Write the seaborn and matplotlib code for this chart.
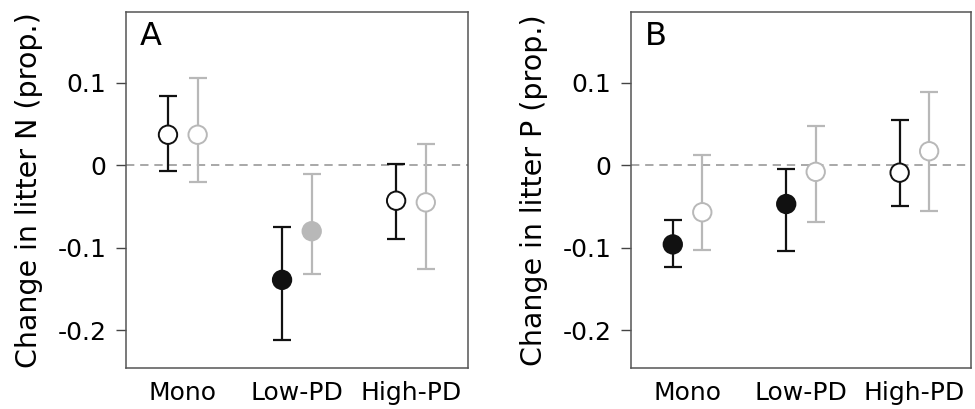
import numpy as np
import seaborn as sns
import matplotlib.pyplot as plt

sns.set_style("white")
plt.rcParams['font.family'] = ['DejaVu Sans']
plt.rcParams['text.color'] = 'black'
plt.rcParams['axes.labelcolor'] = 'black'
plt.rcParams['xtick.color'] = 'black'
plt.rcParams['ytick.color'] = 'black'

GROUPS = ['Mono', 'Low-PD', 'High-PD']

# panel A: litter N, two series (black / grey)
N_BLACK_MID = [0.037, -0.139, -0.043]
N_BLACK_LO = [-0.007, -0.212, -0.089]
N_BLACK_HI = [0.084, -0.075, 0.001]
N_BLACK_FILL = ['open', 'filled', 'open']
N_GREY_MID = [0.037, -0.080, -0.045]
N_GREY_LO = [-0.020, -0.132, -0.126]
N_GREY_HI = [0.106, -0.011, 0.026]
N_GREY_FILL = ['open', 'filled', 'open']

# panel B: litter P
P_BLACK_MID = [-0.096, -0.047, -0.009]
P_BLACK_LO = [-0.123, -0.104, -0.050]
P_BLACK_HI = [-0.067, -0.004, 0.055]
P_BLACK_FILL = ['filled', 'filled', 'open']
P_GREY_MID = [-0.057, -0.008, 0.017]
P_GREY_LO = [-0.103, -0.069, -0.056]
P_GREY_HI = [0.013, 0.048, 0.089]
P_GREY_FILL = ['open', 'open', 'open']

YTICKS = [-0.2, -0.1, 0, 0.1]
YTICKLABELS = ['-0.2', '-0.1', '0', '0.1']

BLACK = '#111111'
GREY = '#b8b8b8'
DODGE = 0.13


def draw_series(ax, offset, mid, lo, hi, fills, color):
    x = np.arange(len(GROUPS)) + offset
    mid = np.array(mid)
    err = [mid - np.array(lo), np.array(hi) - mid]
    ax.errorbar(x, mid, yerr=err, fmt='none', ecolor=color, elinewidth=1.6,
                capsize=6.5, capthick=1.6, zorder=2)
    sns.scatterplot(x=x, y=mid, hue=fills, hue_order=['open', 'filled'],
                    palette={'open': 'white', 'filled': color},
                    edgecolor=color, linewidth=1.4, s=175, legend=False,
                    zorder=3, ax=ax)


def panel(ax, letter, ylabel, black, grey):
    ax.axhline(0, color='#999999', lw=1.2, ls=(0, (5, 3.5)), zorder=1)
    draw_series(ax, DODGE, *grey, GREY)
    draw_series(ax, -DODGE, *black, BLACK)
    ax.set_xlim(-0.5, 2.5)
    ax.set_ylim(-0.246, 0.186)
    ax.set_xticks(range(len(GROUPS)))
    ax.set_xticklabels(GROUPS, fontsize=18)
    ax.set_yticks(YTICKS)
    ax.set_yticklabels(YTICKLABELS, fontsize=18)
    ax.tick_params(axis='x', length=0, pad=9)
    ax.tick_params(axis='y', length=7, width=1, color='#444444', pad=7, left=True)
    ax.set_ylabel(ylabel, fontsize=20.5, labelpad=10)
    for s in ax.spines.values():
        s.set_color('#555555')
        s.set_linewidth(1.1)
    ax.text(0.04, 0.975, letter, transform=ax.transAxes, fontsize=23,
            ha='left', va='top')


fig = plt.figure(figsize=(9.75, 4.09), dpi=100)
ax1 = fig.add_axes([0.129, 0.100, 0.351, 0.871])
ax2 = fig.add_axes([0.647, 0.100, 0.349, 0.871])

panel(ax1, 'A', 'Change in litter N (prop.)',
      (N_BLACK_MID, N_BLACK_LO, N_BLACK_HI, N_BLACK_FILL),
      (N_GREY_MID, N_GREY_LO, N_GREY_HI, N_GREY_FILL))
panel(ax2, 'B', 'Change in litter P (prop.)',
      (P_BLACK_MID, P_BLACK_LO, P_BLACK_HI, P_BLACK_FILL),
      (P_GREY_MID, P_GREY_LO, P_GREY_HI, P_GREY_FILL))

fig.savefig('out.png', dpi=100)
